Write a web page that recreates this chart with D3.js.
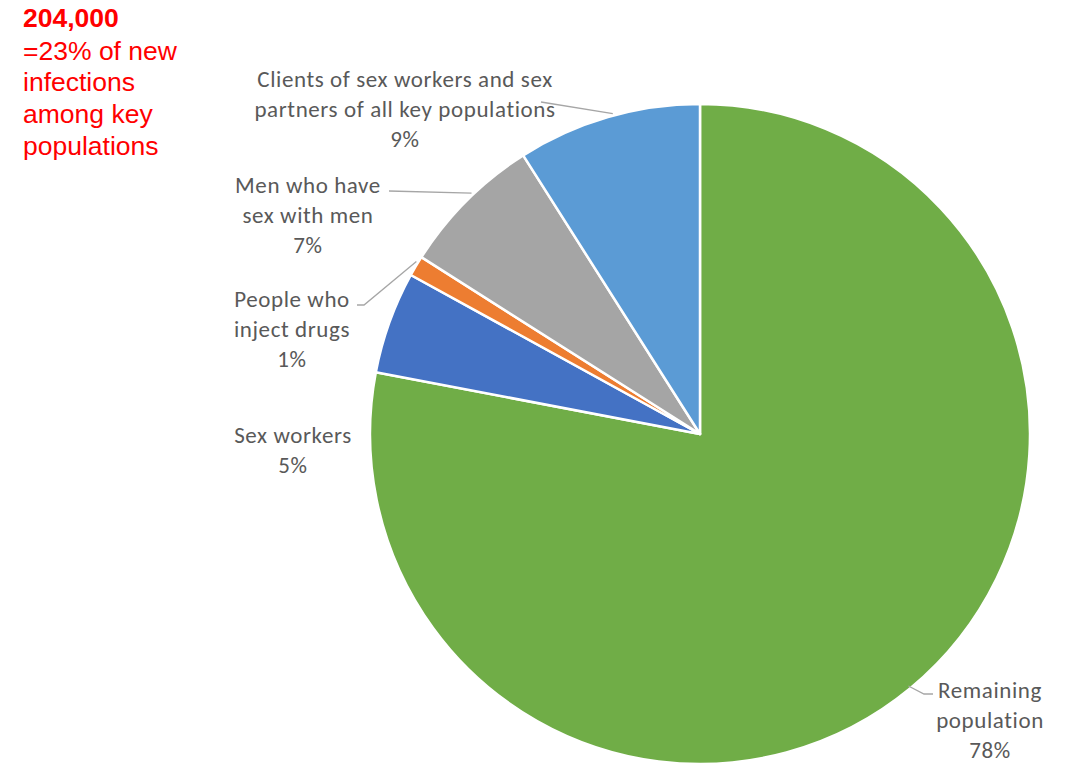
<!DOCTYPE html>
<html>
<head>
<meta charset="utf-8">
<script src="https://cdn.jsdelivr.net/npm/d3@7"></script>
<style>
  html, body { margin: 0; padding: 0; background: #fff; }
  svg { display: block; }
</style>
</head>
<body>
<svg id="chart" width="1069" height="764"></svg>
<script>
// Share of new HIV infections by population group
const groups = [
  "Remaining population",
  "Sex workers",
  "People who inject drugs",
  "Men who have sex with men",
  "Clients of sex workers and sex partners of all key populations"
];
const shares = [78, 5, 1, 7, 9];
const colors = ["#70AD47", "#4472C4", "#ED7D31", "#A5A5A5", "#5B9BD5"];

// Label text lines for each slice (name lines, then percent)
const labelLines = [
  ["Remaining", "population"],
  ["Sex workers"],
  ["People who", "inject drugs"],
  ["Men who have", "sex with men"],
  ["Clients of sex workers and sex", "partners of all key populations"]
];

const headline = "204,000";
const subLines = ["=23% of new", "infections", "among key", "populations"];

const svg = d3.select("#chart");
const cx = 700, cy = 434, R = 330;

const pie = d3.pie().sort(null).value(d => d.v);
const data = pie(shares.map((v, i) => ({ v, i })));
const arc = d3.arc().innerRadius(0).outerRadius(R);

const g = svg.append("g").attr("transform", `translate(${cx},${cy})`);
g.selectAll("path.slice")
  .data(data)
  .join("path")
  .attr("class", "slice")
  .attr("d", arc)
  .attr("fill", d => colors[d.data.i])
  .attr("stroke", "#fff")
  .attr("stroke-width", 2.5)
  .attr("stroke-linejoin", "round");

// Label placement (anchor centre x, first line baseline y)
const labelPos = [
  { x: 990, y: 698 },
  { x: 293, y: 443 },
  { x: 292, y: 307 },
  { x: 308, y: 193 },
  { x: 405, y: 87 }
];
const lineH = 30;

// Leader lines: label edge -> optional elbow -> point on the slice's outer arc
const leaders = [
  { from: [933, 694], via: [924, 694], frac: 0.5, r: R - 3 },
  null,
  { from: [357, 305], via: [364, 305], frac: 0.7, r: R + 2 },
  { from: [389, 191], via: null, frac: 0.56, r: R + 2 },
  { from: [541, 102], via: null, frac: 0.53, r: R + 2 }
];

function arcPoint(d, frac, r) {
  const a = d.startAngle + (d.endAngle - d.startAngle) * frac;
  return [cx + r * Math.sin(a), cy - r * Math.cos(a)];
}

data.forEach((d, k) => {
  const L = leaders[k];
  if (!L) return;
  const pts = [L.from];
  if (L.via) pts.push(L.via);
  pts.push(arcPoint(d, L.frac, L.r));
  svg.append("path")
    .attr("d", d3.line()(pts))
    .attr("fill", "none")
    .attr("stroke", "#A6A6A6")
    .attr("stroke-width", 1.3);
});

data.forEach((d, k) => {
  const lines = labelLines[k].concat([d3.format("d")(d.data.v) + "%"]);
  const t = svg.append("text")
    .attr("x", labelPos[k].x)
    .attr("y", labelPos[k].y)
    .attr("text-anchor", "middle")
    .attr("font-family", "Carlito, Calibri, Lato, sans-serif")
    .attr("font-size", 23)
    .attr("letter-spacing", 0.6)
    .attr("fill", "#595959");
  lines.forEach((s, j) => {
    t.append("tspan")
      .attr("x", labelPos[k].x)
      .attr("y", labelPos[k].y + j * lineH)
      .text(s);
  });
});

// Headline annotation, top left
const note = svg.append("text")
  .attr("font-family", "'Liberation Sans', Arial, sans-serif")
  .attr("font-size", 26.5)
  .attr("fill", "#FF0000");
note.append("tspan").attr("x", 23).attr("y", 27).attr("font-weight", "bold").text(headline);
subLines.forEach((s, j) => {
  note.append("tspan").attr("x", 23).attr("y", 59.5 + j * 31.7).text(s);
});
</script>
</body>
</html>
